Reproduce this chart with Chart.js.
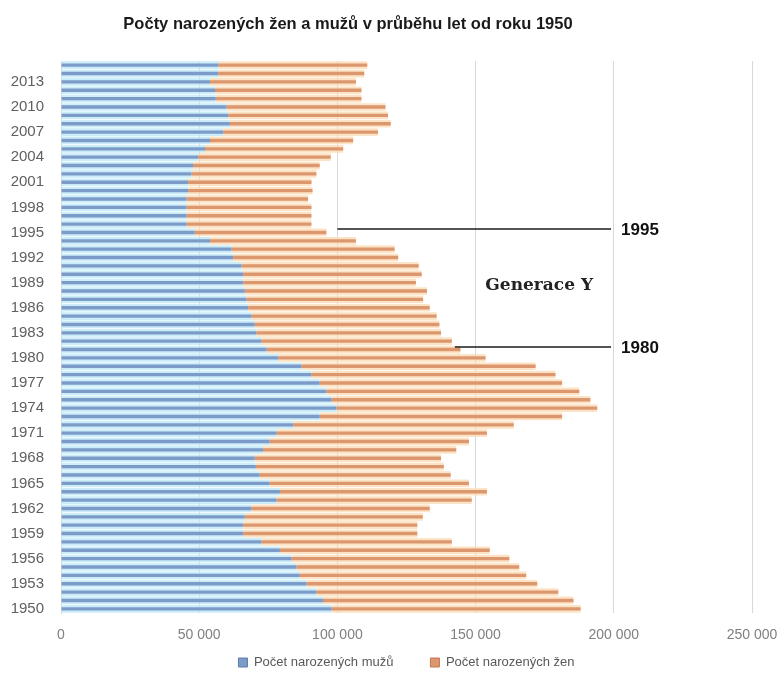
<!DOCTYPE html>
<html>
<head>
<meta charset="utf-8">
<script src="https://cdn.jsdelivr.net/npm/chart.js@4.4.1/dist/chart.umd.min.js"></script>
<style>
  html, body { margin: 0; padding: 0; background: #ffffff; }
  #wrap { width: 781px; height: 677px; position: relative; }
</style>
</head>
<body>
<div id="wrap"><canvas id="c" width="781" height="677"></canvas></div>
<script>
// ---------- data ----------
const chartTitle = 'Počty narozených žen a mužů v průběhu let od roku 1950';
const seriesNames = ['Počet narozených mužů', 'Počet narozených žen'];

const years = [
  1950, 1951, 1952, 1953, 1954, 1955, 1956, 1957, 1958, 1959,
  1960, 1961, 1962, 1963, 1964, 1965, 1966, 1967, 1968, 1969,
  1970, 1971, 1972, 1973, 1974, 1975, 1976, 1977, 1978, 1979,
  1980, 1981, 1982, 1983, 1984, 1985, 1986, 1987, 1988, 1989,
  1990, 1991, 1992, 1993, 1994, 1995, 1996, 1997, 1998, 1999,
  2000, 2001, 2002, 2003, 2004, 2005, 2006, 2007, 2008, 2009,
  2010, 2011, 2012, 2013, 2014, 2015
];

const menBirths = [
  97900, 94800, 92400, 88800, 86400, 85200, 83400, 79200, 72500, 65900,
  65900, 66500, 68900, 78000, 79200, 75500, 71900, 70500, 70100, 73100,
  75500, 78000, 84000, 93600, 99700, 97900, 96000, 93600, 90600, 87000,
  78600, 74400, 72500, 70700, 70100, 68900, 67700, 67100, 66500, 65900,
  65900, 65300, 62300, 61700, 53900, 48400, 45400, 45400, 45400, 45400,
  46000, 46000, 47200, 47800, 49600, 52100, 53900, 58700, 61100, 60500,
  59900, 56000, 55700, 53900, 56900, 56900
];

const womenBirths = [
  90100, 90600, 87500, 83500, 81900, 80600, 78800, 75900, 68900, 63000,
  63000, 64400, 64500, 70600, 74900, 72100, 69100, 68000, 67400, 69900,
  72100, 76100, 79800, 87700, 94300, 93600, 91500, 87700, 88300, 84700,
  75000, 70100, 68900, 66800, 66800, 67000, 65700, 63900, 65900, 62500,
  64600, 64100, 59700, 59000, 52800, 47600, 45200, 45200, 45200, 44000,
  45000, 44600, 45200, 45800, 48000, 50000, 51800, 56000, 58200, 57800,
  57500, 52700, 53000, 52800, 52800, 53900
];

const xTickValues = [0, 50000, 100000, 150000, 200000, 250000];
const yearLabelStep = 3;

// annotation marks (year position, start value, text)
const markLabels = ['1995', '1980'];
const markYearPos = [1995.4, 1981.3];
const markFrom = [100000, 142500];
const markTo = 199000;
const generationLabel = 'Generace Y';
const generationYearPos = 1988.7;
const generationValue = 173000;

// ---------- styles ----------
const stripeColors = ['#7d9bc8', '#dc976f'];
const stripeBorders = ['#5d7cab', '#c07850'];
const glowColors = ['rgba(190,232,247,0.8)', 'rgba(252,218,178,0.75)'];
const SANS = '"Liberation Sans", Arial, sans-serif';

function fmtThousands(v) {
  return String(v).replace(/\B(?=(\d{3})+(?!\d))/g, ' ');
}

// ---------- plugins ----------
const titlePlugin = {
  id: 'titlePlugin',
  afterDraw(chart) {
    const ctx = chart.ctx;
    ctx.save();
    ctx.font = 'bold 16.5px ' + SANS;
    ctx.fillStyle = '#1a1a1a';
    ctx.textAlign = 'center';
    ctx.textBaseline = 'alphabetic';
    ctx.fillText(chartTitle, 348, 29);
    ctx.restore();
  }
};

const legendShift = {
  id: 'legendShift',
  afterInit(chart) {
    const lg = chart.legend;
    if (!lg) return;
    const fit = lg.fit.bind(lg);
    const drawInner = lg._draw.bind(lg);
    lg.fit = function () { fit(); this.height = 34; };
    lg._draw = function () {
      const c = this.ctx;
      c.save();
      c.translate(0, -24);
      drawInner();
      c.restore();
    };
  }
};

const annotate = {
  id: 'annotate',
  afterDatasetsDraw(chart) {
    const { ctx, scales: { x, y } } = chart;
    ctx.save();
    ctx.strokeStyle = '#1a1a1a';
    ctx.lineWidth = 1.5;
    ctx.fillStyle = '#111111';
    ctx.textAlign = 'left';
    ctx.textBaseline = 'middle';
    ctx.font = 'bold 17px ' + SANS;
    markLabels.forEach((lab, i) => {
      const py = y.getPixelForValue(markYearPos[i] - years[0]);
      const x0 = x.getPixelForValue(markFrom[i]);
      const x1 = x.getPixelForValue(markTo);
      ctx.beginPath();
      ctx.moveTo(x0, py);
      ctx.lineTo(x1, py);
      ctx.stroke();
      ctx.fillText(lab, x1 + 10, py + 1);
    });
    ctx.font = 'bold 17px "DejaVu Serif", "Liberation Serif", serif';
    ctx.textAlign = 'center';
    ctx.fillStyle = '#222222';
    ctx.fillText(generationLabel,
      x.getPixelForValue(generationValue),
      y.getPixelForValue(generationYearPos - years[0]));
    ctx.restore();
  }
};

// ---------- chart ----------
const barCommon = { categoryPercentage: 1, grouped: false, borderWidth: 0 };

new Chart(document.getElementById('c'), {
  type: 'bar',
  data: {
    labels: years.map(String),
    datasets: [
      Object.assign({ label: seriesNames[0], data: menBirths, backgroundColor: stripeColors[0],
        stack: 'stripe', barPercentage: 0.4 }, barCommon),
      Object.assign({ label: seriesNames[1], data: womenBirths, backgroundColor: stripeColors[1],
        stack: 'stripe', barPercentage: 0.4 }, barCommon),
      Object.assign({ label: seriesNames[0] + ' ', data: menBirths, backgroundColor: glowColors[0],
        stack: 'glow', barPercentage: 0.92 }, barCommon),
      Object.assign({ label: seriesNames[1] + ' ', data: womenBirths, backgroundColor: glowColors[1],
        stack: 'glow', barPercentage: 0.92 }, barCommon)
    ]
  },
  options: {
    indexAxis: 'y',
    responsive: false,
    animation: false,
    events: [],
    layout: { padding: { top: 61, right: 29, bottom: 0, left: 0 } },
    scales: {
      x: {
        stacked: true,
        min: xTickValues[0],
        max: xTickValues[xTickValues.length - 1],
        afterBuildTicks: (s) => { s.ticks = xTickValues.map(v => ({ value: v })); },
        afterFit: (s) => { s.paddingLeft = 0; s.paddingRight = 0; s.height = 30; },
        grid: { color: '#d9d9d9', lineWidth: 1, drawTicks: false },
        border: { display: false },
        ticks: {
          padding: 14,
          color: '#7f7f7f',
          font: { family: SANS, size: 14 },
          maxRotation: 0,
          callback: (v) => fmtThousands(v)
        }
      },
      y: {
        stacked: true,
        reverse: true,
        grid: { display: false, drawTicks: false },
        border: { display: true, color: '#d9d9d9' },
        afterFit: (s) => { s.width = 61; },
        ticks: {
          autoSkip: false,
          padding: 17,
          color: '#606060',
          font: { family: SANS, size: 15 },
          callback: function (v, i) {
            const yr = years[i];
            return (yr - years[0]) % yearLabelStep === 0 ? String(yr) : '';
          }
        }
      }
    },
    plugins: {
      title: { display: false },
      tooltip: { enabled: false },
      legend: {
        position: 'bottom',
        fullSize: false,
        labels: {
          boxWidth: 9,
          boxHeight: 9,
          padding: 37,
          color: '#595959',
          font: { family: SANS, size: 13 },
          generateLabels: () => seriesNames.map((name, i) => ({
            text: name,
            fillStyle: stripeColors[i],
            strokeStyle: stripeBorders[i],
            lineWidth: 1,
            hidden: false,
            datasetIndex: i,
            fontColor: '#595959'
          }))
        }
      }
    }
  },
  plugins: [legendShift, annotate, titlePlugin]
});
</script>
</body>
</html>
